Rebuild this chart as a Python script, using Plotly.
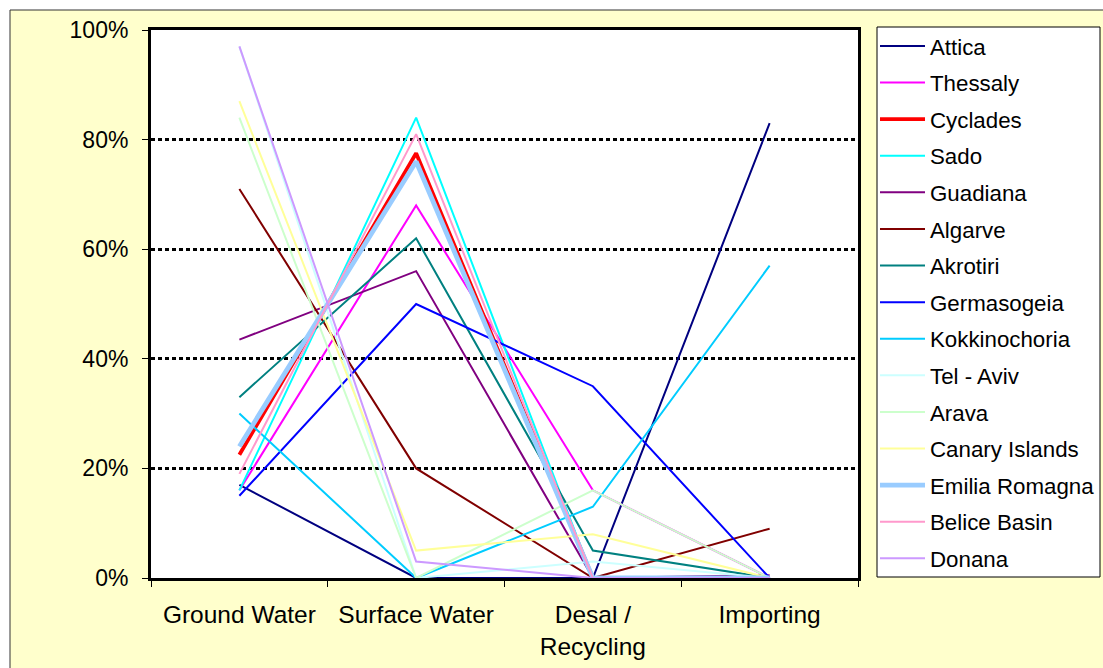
import plotly.graph_objects as go

# Share of water supply by source, per region (%)
categories = ["Ground Water", "Surface Water", "Desal /<br>Recycling", "Importing"]

attica = [17, 0, 0, 83]
thessaly = [16, 68, 16, 0]
cyclades = [22.5, 77.5, 0, 0]
sado = [16, 84, 0, 0]
guadiana = [43.5, 56, 0, 0.5]
algarve = [71, 20, 0, 9]
akrotiri = [33, 62, 5, 0]
germasogeia = [15, 50, 35, 0]
kokkinochoria = [30, 0, 13, 57]
tel_aviv = [97, 0, 3, 0]
arava = [84, 0, 16, 0]
canary_islands = [87, 5, 8, 0]
emilia_romagna = [24, 76, 0, 0]
belice_basin = [19, 81, 0, 0]
donana = [97, 3, 0, 0]

y_ticks = [0, 20, 40, 60, 80, 100]
y_tick_labels = ["0%", "20%", "40%", "60%", "80%", "100%"]

series = [
    ("Attica", attica, "#000080", 2),
    ("Thessaly", thessaly, "#FF00FF", 2),
    ("Cyclades", cyclades, "#FF0000", 3.8),
    ("Sado", sado, "#00FFFF", 2),
    ("Guadiana", guadiana, "#800080", 2),
    ("Algarve", algarve, "#800000", 2),
    ("Akrotiri", akrotiri, "#008080", 2),
    ("Germasogeia", germasogeia, "#0000FF", 2),
    ("Kokkinochoria", kokkinochoria, "#00CCFF", 2),
    ("Tel - Aviv", tel_aviv, "#CCFFFF", 2),
    ("Arava", arava, "#CCFFCC", 2),
    ("Canary Islands", canary_islands, "#FFFF99", 2),
    ("Emilia Romagna", emilia_romagna, "#99CCFF", 4.8),
    ("Belice Basin", belice_basin, "#FF99CC", 2),
    ("Donana", donana, "#CC99FF", 2),
]

W, H = 1103, 668
L, R, T, B = 151, 858, 30, 578  # plot area edges in pixels
FONT = "Arial, Liberation Sans, sans-serif"


def px_x(px):
    return (px - L) / (R - L)


def px_y(py):
    return (B - py) / (B - T)


fig = go.Figure()
for i, (name, values, color, width) in enumerate(series):
    fig.add_trace(go.Scatter(
        x=categories, y=values, mode="lines", name=name,
        legendgroup=f"g{i}",
        line=dict(color=color, width=width),
    ))

shapes = [
    # chart area panel
    dict(type="rect", xref="paper", yref="paper", layer="below",
         x0=px_x(10), x1=px_x(1120), y0=px_y(690), y1=px_y(10),
         fillcolor="#FFFFCC", line=dict(color="#333333", width=1)),
    # white plot area
    dict(type="rect", xref="x domain", yref="y domain", layer="below",
         x0=0, x1=1, y0=0, y1=1, fillcolor="white", line=dict(width=0)),
    # legend box
    dict(type="rect", xref="paper", yref="paper", layer="below",
         x0=px_x(877), x1=px_x(1100), y0=px_y(577), y1=px_y(27),
         fillcolor="white", line=dict(color="black", width=1)),
]

fig.update_layout(
    width=W, height=H,
    margin=dict(l=L, r=W - R, t=T, b=H - B, pad=0, autoexpand=False),
    paper_bgcolor="white",
    plot_bgcolor="white",
    font=dict(family=FONT, size=22, color="black"),
    shapes=shapes,
    showlegend=True,
    legend=dict(
        x=px_x(875), y=px_y(25), xanchor="left", yanchor="top",
        bgcolor="rgba(0,0,0,0)", borderwidth=0,
        font=dict(family=FONT, size=22.3, color="black"),
        tracegroupgap=4.6, itemwidth=45, maxheight=640,
    ),
)

fig.update_xaxes(
    type="category", tickson="boundaries",
    ticks="outside", ticklen=6, tickwidth=1, tickcolor="black",
    showline=True, linecolor="black", linewidth=3, mirror=True,
    showgrid=False, layer="below traces",
    tickfont=dict(family=FONT, size=24.5, color="black"),
    ticklabelstandoff=13,
    range=[-0.5, 3.5],
)
fig.update_yaxes(
    range=[0, 100], tickvals=y_ticks, ticktext=y_tick_labels,
    ticks="outside", ticklen=6, tickwidth=1, tickcolor="black",
    showline=True, linecolor="black", linewidth=3, mirror=True,
    showgrid=True, gridcolor="black", gridwidth=2.5, griddash="4px,3px",
    zeroline=False, layer="below traces",
    tickfont=dict(family=FONT, size=23, color="black"),
    ticklabelstandoff=9,
)

fig.write_html("out.html")
